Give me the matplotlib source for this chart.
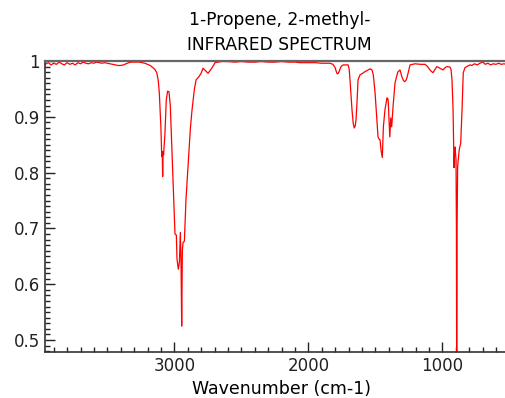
import matplotlib
matplotlib.use("Agg")
import matplotlib.pyplot as plt
from matplotlib.ticker import MultipleLocator, FuncFormatter

title_line1 = "1-Propene, 2-methyl-"
title_line2 = "INFRARED SPECTRUM"
x_label = "Wavenumber (cm-1)"

wavenumber = [3965, 3940, 3920, 3900, 3880, 3860, 3840, 3820, 3800, 3780, 3760, 3740, 3720,
              3700, 3680, 3660, 3640, 3620, 3600, 3580, 3560, 3540, 3520, 3500, 3480, 3460,
              3440, 3420, 3400, 3380, 3360, 3340, 3320, 3300, 3280, 3260, 3240, 3220, 3200,
              3180, 3160, 3145, 3131, 3120, 3112, 3100, 3094, 3090, 3087, 3084, 3080, 3070,
              3060, 3050, 3040, 3030, 3015, 3005, 2995, 2985, 2980, 2970, 2962, 2955, 2950,
              2945, 2940, 2935, 2925, 2913, 2895, 2880, 2868, 2850, 2838, 2816, 2800, 2786,
              2765, 2748, 2730, 2718, 2696, 2650, 2600, 2550, 2500, 2450, 2400, 2350, 2300,
              2250, 2200, 2150, 2100, 2063, 2000, 1950, 1900, 1870, 1838, 1816, 1800, 1790,
              1784, 1776, 1766, 1756, 1740, 1726, 1703, 1695, 1689, 1682, 1674, 1665, 1657,
              1650, 1644, 1636, 1629, 1615, 1595, 1577, 1560, 1540, 1525, 1515, 1502, 1490,
              1480, 1472, 1465, 1458, 1448, 1440, 1428, 1413, 1406, 1403, 1398, 1392, 1385,
              1378, 1368, 1353, 1333, 1316, 1301, 1290, 1281, 1272, 1264, 1241, 1204, 1160,
              1129, 1110, 1092, 1080, 1070, 1055, 1040, 1018, 995, 980, 965, 943, 935, 928,
              920, 913, 908, 905, 898, 895, 893, 890, 886, 874, 863, 853, 844, 831, 810, 794,
              780, 760, 740, 720, 697, 680, 660, 640, 620, 600, 580, 560, 540, 525]

transmittance = [0.994, 0.997, 0.993, 0.996, 0.994, 0.998, 0.995, 0.993, 0.997, 0.994, 0.996,
                 0.993, 0.997, 0.995, 0.998, 0.996, 0.995, 0.997, 0.996, 0.998, 0.997, 0.996,
                 0.997, 0.996, 0.995, 0.994, 0.993, 0.992, 0.992, 0.993, 0.995, 0.997, 0.998,
                 0.998, 0.998, 0.998, 0.997, 0.996, 0.994, 0.992, 0.988, 0.985, 0.979, 0.965,
                 0.943, 0.880, 0.829, 0.835, 0.793, 0.838, 0.832, 0.870, 0.930, 0.946, 0.945,
                 0.920, 0.823, 0.760, 0.690, 0.688, 0.645, 0.627, 0.640, 0.693, 0.640,
                 0.525, 0.660, 0.675, 0.677, 0.752, 0.823, 0.880, 0.912, 0.950, 0.966, 0.972,
                 0.978, 0.987, 0.982, 0.978, 0.984, 0.988, 0.997, 0.999, 0.999, 0.998, 0.999,
                 0.998, 0.998, 0.999, 0.998, 0.998, 0.999, 0.998, 0.998, 0.997, 0.997, 0.997,
                 0.996, 0.996, 0.996, 0.994, 0.988, 0.980, 0.977, 0.978, 0.984, 0.990, 0.993,
                 0.993, 0.993, 0.985, 0.966, 0.940, 0.912, 0.888, 0.880, 0.884, 0.895, 0.930,
                 0.966, 0.975, 0.978, 0.981, 0.983, 0.986, 0.984, 0.975, 0.943, 0.900, 0.864,
                 0.860, 0.859, 0.841, 0.827, 0.882, 0.913, 0.934, 0.932, 0.925, 0.895, 0.864,
                 0.898, 0.882, 0.918, 0.961, 0.980, 0.984, 0.971, 0.965, 0.963, 0.965, 0.970,
                 0.993, 0.995, 0.994, 0.994, 0.990, 0.984, 0.981, 0.979, 0.985, 0.990, 0.987,
                 0.984, 0.988, 0.990, 0.989, 0.985, 0.966, 0.913, 0.809, 0.840, 0.846, 0.823,
                 0.700, 0.400, 0.700, 0.811, 0.841, 0.853, 0.913, 0.979, 0.988, 0.991, 0.993,
                 0.992, 0.995, 0.993, 0.996, 0.998, 0.994, 0.996, 0.993, 0.995, 0.994, 0.996,
                 0.994, 0.995, 0.994]

fig = plt.figure(figsize=(5.06, 3.98), dpi=100)
ax = fig.add_axes([45 / 506, 1 - 352 / 398, 1 - 45 / 506, (352 - 61) / 398])
ax.plot(wavenumber, transmittance, color="#ff0000", linewidth=0.9)
ax.set_xlim(3965, 525)
ax.set_ylim(0.4786, 1.0)

ax.xaxis.set_major_locator(MultipleLocator(1000))
ax.xaxis.set_minor_locator(MultipleLocator(100))
ax.yaxis.set_major_locator(MultipleLocator(0.1))
ax.yaxis.set_minor_locator(MultipleLocator(0.01))
ax.yaxis.set_major_formatter(FuncFormatter(lambda v, p: f"{v:g}"))
ax.tick_params(which="both", direction="in", top=False, right=False, labelsize=12, colors="#222222")
ax.tick_params(which="major", length=7, width=1)
ax.tick_params(which="minor", length=3.5, width=1)
ax.spines["top"].set_color("#666666")
ax.spines["top"].set_linewidth(1.6)
ax.spines["right"].set_visible(False)
for s in ("left", "bottom"):
    ax.spines[s].set_color("#333333")
    ax.spines[s].set_linewidth(1.2)

fig.text(281 / 506, 1 - 389 / 398, x_label, ha="center", va="center", fontsize=12.5)
fig.text(280 / 506, 1 - 20 / 398, title_line1, ha="center", va="center", fontsize=12.3)
fig.text(279 / 506, 1 - 45 / 398, title_line2, ha="center", va="center", fontsize=12.3)

fig.savefig("out.png", dpi=100)
